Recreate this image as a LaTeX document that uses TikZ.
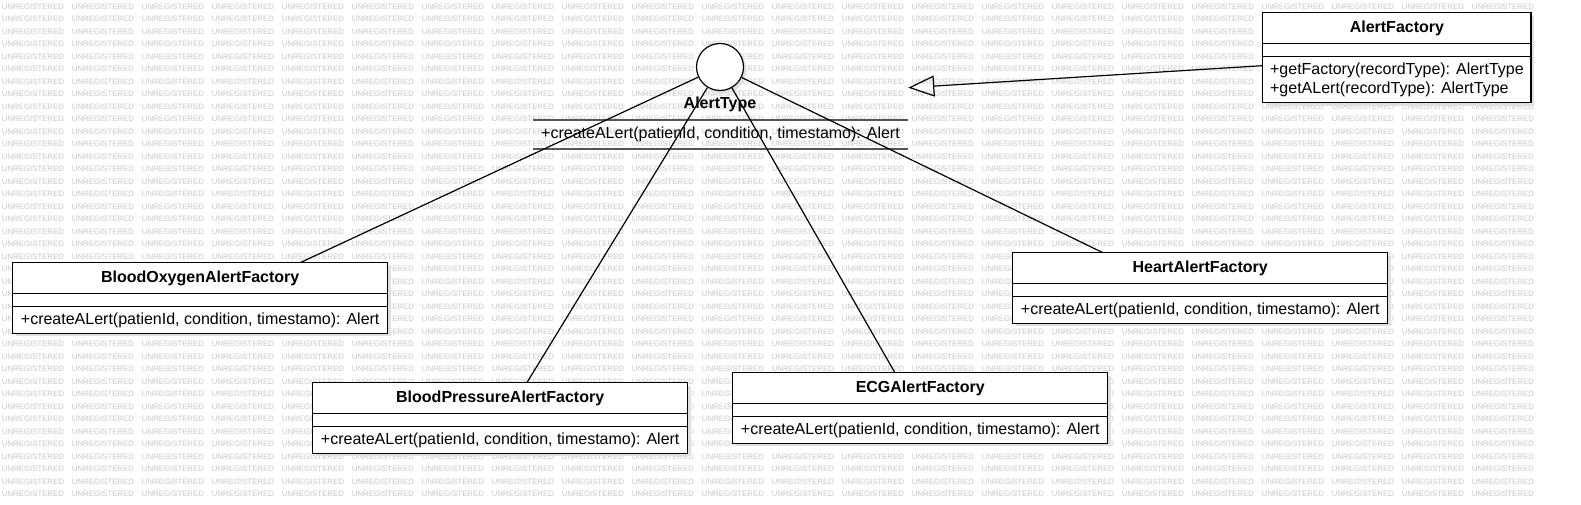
\documentclass[tikz,border=0pt]{standalone}
\usepackage{fontspec}
\setmainfont{Liberation Sans}
\usetikzlibrary{positioning,arrows.meta,shadows}

\definecolor{wmgray}{HTML}{C8C8C8}
\definecolor{opgray}{HTML}{555555}

\newcommand{\wmword}{\makebox[52.5pt][l]{UNREGISTERED}}
\newcommand{\wmrow}{\wmword\wmword\wmword\wmword\wmword\wmword\wmword\wmword%
\wmword\wmword\wmword\wmword\wmword\wmword\wmword\wmword%
\wmword\wmword\wmword\wmword\wmword\wmword}

\tikzset{
  watermark/.style={anchor=west, inner sep=0pt, text=wmgray, font=\fontsize{5.85}{6}\selectfont},
  boxpart/.style={draw, fill=white, line width=0.9pt, inner sep=0pt, outer sep=0pt,
    minimum width=281.25pt,
    drop shadow={shadow xshift=2.25pt, shadow yshift=-2.25pt, fill=black!12, opacity=1}},
  titlebox/.style={boxpart, minimum height=23pt, font=\fontsize{12}{14}\selectfont\bfseries},
  fieldbox/.style={boxpart, minimum height=10pt},
  methodbox/.style={boxpart, minimum height=20pt, align=left, font=\fontsize{12}{14.25}\selectfont},
  opline/.style={draw=opgray, line width=1.2pt},
  realize/.style={draw, line width=0.9pt},
  generalize/.style={draw, line width=0.9pt, -{Triangle[open, length=19.5pt, width=15.75pt]}},
}

\begin{document}
\begin{tikzpicture}[x=0.75pt, y=-0.75pt]
    \useasboundingbox (0,0) rectangle (1581,505);
    \clip (0,0) rectangle (1581,505);
    \fill[white] (0,0) rectangle (1581,505);

    % watermark
    \foreach \r in {0,...,39}
        \node[watermark] (wm\r) at (1.7, 6.7+12.5*\r) {\wmrow};

    % interface
    \node[draw, circle, fill=white, minimum size=35.25pt, inner sep=0pt, line width=0.9pt,
        drop shadow={shadow xshift=2.25pt, shadow yshift=-2.25pt, fill=black!12, opacity=1}] (at) at (720,67) {};
    \node[font=\fontsize{12}{14}\selectfont\bfseries] (atname) at (720,104) {AlertType};
    \node[minimum width=281.25pt, minimum height=21.375pt, inner sep=0pt, font=\fontsize{12}{14}\selectfont] (atmethods) at (720.5,134.75) {+createALert(patienId, condition, timestamo): Alert};
    \draw[opline] (atmethods.north west) -- (atmethods.north east);
    \draw[opline] (atmethods.south west) -- (atmethods.south east);
    \coordinate (atend) at (908.3,87.7);

    % factory
    \node[titlebox, minimum width=201.25pt] (aftitle) at (1396.9,28) {AlertFactory};
    \node[fieldbox, minimum width=201.25pt, below=0pt of aftitle] (affields) {};
    \node[methodbox, minimum width=201.25pt, minimum height=34.5pt, below=0pt of affields] (afmethods) {+getFactory(recordType): AlertType\\+getALert(recordType): AlertType};

    % concrete factories
    \node[titlebox] (botitle) at (200.2,278) {BloodOxygenAlertFactory};
    \node[fieldbox, below=0pt of botitle] (bofields) {};
    \node[methodbox, below=0pt of bofields] (bomethods) {+createALert(patienId, condition, timestamo): Alert};

    \node[titlebox] (bptitle) at (500.2,398) {BloodPressureAlertFactory};
    \node[fieldbox, below=0pt of bptitle] (bpfields) {};
    \node[methodbox, below=0pt of bpfields] (bpmethods) {+createALert(patienId, condition, timestamo): Alert};

    \node[titlebox] (ecgtitle) at (920.2,388) {ECGAlertFactory};
    \node[fieldbox, below=0pt of ecgtitle] (ecgfields) {};
    \node[methodbox, below=0pt of ecgfields] (ecgmethods) {+createALert(patienId, condition, timestamo): Alert};

    \node[titlebox] (hatitle) at (1200.2,268) {HeartAlertFactory};
    \node[fieldbox, below=0pt of hatitle] (hafields) {};
    \node[methodbox, below=0pt of hafields] (hamethods) {+createALert(patienId, condition, timestamo): Alert};

    % connectors
    \draw[realize] (at) -- ([xshift=75pt]botitle.north);
    \draw[realize] (at) -- ([xshift=20pt]bptitle.north);
    \draw[realize] (at) -- ([xshift=-19pt]ecgtitle.north);
    \draw[realize] (at) -- ([xshift=-73pt]hatitle.north);
    \draw[generalize] ([yshift=10.5pt]afmethods.west) -- (atend);
\end{tikzpicture}
\end{document}
